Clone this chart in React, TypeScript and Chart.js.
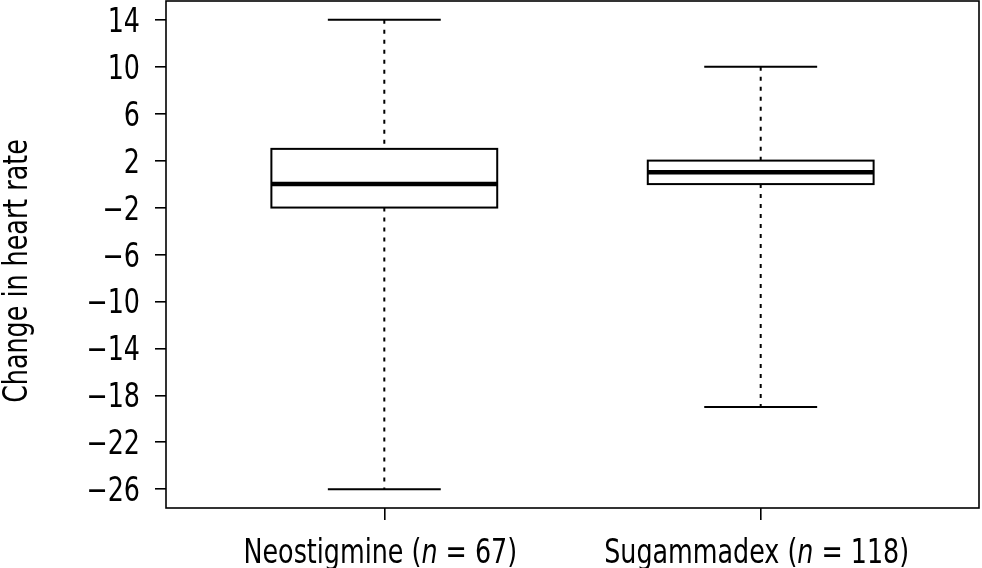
import React, { useEffect, useRef } from "react";
import { Chart, registerables } from "chart.js";

Chart.register(...registerables);

const CATEGORIES = ["Neostigmine", "Sugammadex"];
const N_COUNTS = [67, 118];
const WHISKER_LOW = [-26, -19];
const Q1 = [-2, 0];
const MEDIAN = [0, 1];
const Q3 = [3, 2];
const WHISKER_HIGH = [14, 10];
const Y_TICKS = [14, 10, 6, 2, -2, -6, -10, -14, -18, -22, -26];
const Y_TITLE = "Change in heart rate";

const FONT = "'DejaVu Sans Condensed', 'DejaVu Sans', sans-serif";
const FONT_SIZE = 33;
const SX = 0.855;

const fmt = (v: number) => (v < 0 ? "\u2212" + Math.abs(v) : String(v));

function drawText(ctx: any, parts: { t: string; italic?: boolean }[], x: number, y: number, align: "left" | "center" | "right", rot = 0) {
  ctx.save();
  ctx.translate(x, y);
  if (rot) ctx.rotate(rot);
  ctx.scale(SX, 1);
  ctx.textBaseline = "alphabetic";
  ctx.textAlign = "left";
  ctx.fillStyle = "#000";
  let total = 0;
  const widths = parts.map((p) => {
    ctx.font = `${p.italic ? "italic " : ""}${FONT_SIZE}px ${FONT}`;
    const w = ctx.measureText(p.t).width;
    total += w;
    return w;
  });
  let cx = align === "left" ? 0 : align === "center" ? -total / 2 : -total;
  parts.forEach((p, i) => {
    ctx.font = `${p.italic ? "italic " : ""}${FONT_SIZE}px ${FONT}`;
    ctx.fillText(p.t, cx, 0);
    cx += widths[i];
  });
  ctx.restore();
}

const boxPlugin = {
  id: "boxplotDraw",
  afterDraw(chart: any) {
    const { ctx, chartArea, scales } = chart;
    const xs = scales.x;
    const ys = scales.y;
    ctx.save();
    ctx.strokeStyle = "#000";
    ctx.lineWidth = 1.6;
    ctx.strokeRect(chartArea.left, chartArea.top, chartArea.right - chartArea.left, chartArea.bottom - chartArea.top);

    CATEGORIES.forEach((_, i) => {
      const pos = i + 1;
      const cx = xs.getPixelForValue(pos);
      const bl = xs.getPixelForValue(pos - 0.3);
      const br = xs.getPixelForValue(pos + 0.3);
      const cl = xs.getPixelForValue(pos - 0.15);
      const cr = xs.getPixelForValue(pos + 0.15);
      const yLo = ys.getPixelForValue(WHISKER_LOW[i]);
      const yQ1 = ys.getPixelForValue(Q1[i]);
      const yMed = ys.getPixelForValue(MEDIAN[i]);
      const yQ3 = ys.getPixelForValue(Q3[i]);
      const yHi = ys.getPixelForValue(WHISKER_HIGH[i]);

      ctx.strokeStyle = "#000";
      ctx.setLineDash([4, 6]);
      ctx.lineWidth = 2;
      ctx.beginPath();
      ctx.moveTo(cx, yHi);
      ctx.lineTo(cx, yQ3);
      ctx.moveTo(cx, yQ1);
      ctx.lineTo(cx, yLo);
      ctx.stroke();
      ctx.setLineDash([]);

      ctx.lineWidth = 2;
      ctx.beginPath();
      ctx.moveTo(cl, yHi);
      ctx.lineTo(cr, yHi);
      ctx.moveTo(cl, yLo);
      ctx.lineTo(cr, yLo);
      ctx.stroke();

      ctx.fillStyle = "#fff";
      ctx.fillRect(bl, yQ3, br - bl, yQ1 - yQ3);
      ctx.lineWidth = 2;
      ctx.strokeRect(bl, yQ3, br - bl, yQ1 - yQ3);

      ctx.lineWidth = 4.5;
      ctx.beginPath();
      ctx.moveTo(bl, yMed);
      ctx.lineTo(br, yMed);
      ctx.stroke();

      drawText(ctx, [
        { t: CATEGORIES[i] + " (" },
        { t: "n", italic: true },
        { t: " = " + N_COUNTS[i] + ")" },
      ], cx - 4, 563, "center");
    });

    Y_TICKS.forEach((v) => {
      const y = ys.getPixelForValue(v);
      drawText(ctx, [{ t: fmt(v) }], 140, y + 12, "right");
    });

    drawText(ctx, [{ t: Y_TITLE }], 27, 271, "center", -Math.PI / 2);
    ctx.restore();
  },
};

export default function App() {
  const ref = useRef<HTMLCanvasElement | null>(null);
  useEffect(() => {
    if (!ref.current) return;
    const chart = new Chart(ref.current, {
      type: "scatter",
      data: { datasets: [] },
      options: {
        animation: false,
        responsive: true,
        maintainAspectRatio: false,
        devicePixelRatio: 1,
        layout: { padding: { top: 1, right: 3, left: 0, bottom: 0 } },
        plugins: { legend: { display: false }, tooltip: { enabled: false } },
        scales: {
          x: {
            type: "linear",
            min: 0.42,
            max: 2.58,
            afterBuildTicks: (s: any) => {
              s.ticks = CATEGORIES.map((_, i) => ({ value: i + 1 }));
            },
            afterFit: (s: any) => {
              s.height = 60;
              s.paddingLeft = 0;
              s.paddingRight = 0;
            },
            border: { display: false },
            grid: { display: true, drawOnChartArea: false, drawTicks: true, tickLength: 12, lineWidth: 1.6, color: "#000" },
            ticks: { display: false },
          },
          y: {
            type: "linear",
            min: -27.6,
            max: 15.6,
            afterBuildTicks: (s: any) => {
              s.ticks = Y_TICKS.map((v) => ({ value: v }));
            },
            afterFit: (s: any) => {
              s.width = 166;
              s.paddingTop = 0;
              s.paddingBottom = 0;
            },
            border: { display: false },
            grid: { display: true, drawOnChartArea: false, drawTicks: true, tickLength: 11, lineWidth: 1.6, color: "#000" },
            ticks: { display: false },
          },
        },
      },
      plugins: [boxPlugin],
    } as any);
    return () => chart.destroy();
  }, []);
  return (
    <div style={{ position: "fixed", left: 0, top: 0, width: 982, height: 568, background: "#fff" }}>
      <canvas ref={ref} />
    </div>
  );
}
